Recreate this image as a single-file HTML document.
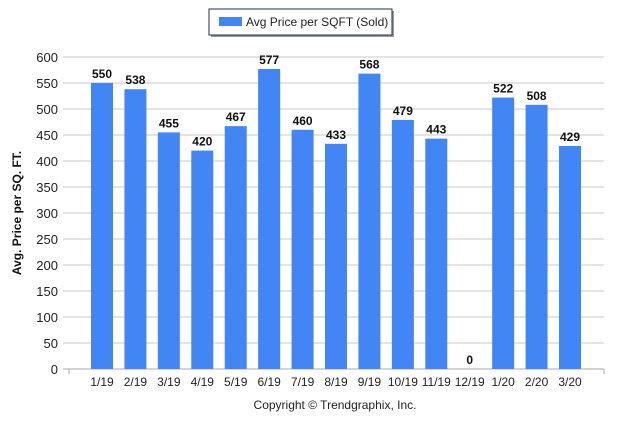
<!DOCTYPE html>
<html><head><meta charset="utf-8"><style>
body{margin:0;background:#fff;font-family:"Liberation Sans",Arial,sans-serif}
</style></head><body>
<svg width="623" height="419" xmlns="http://www.w3.org/2000/svg" style="font-family:'Liberation Sans',Arial,sans-serif">
<rect x="211" y="11" width="183" height="26" fill="#999"/>
<rect x="209" y="9" width="183" height="26" fill="#fff" stroke="#1f2f4f" stroke-width="1"/>
<rect x="219" y="17" width="23" height="9" fill="#4285f4"/>
<text x="246" y="26" font-size="12" fill="#222">Avg Price per SQFT (Sold)</text>
<g id="grid"></g><g id="bars"></g><g id="xl"></g>
<text transform="translate(21,213) rotate(-90)" text-anchor="middle" font-size="12" font-weight="bold" fill="#111">Avg. Price per SQ. FT.</text>
<text x="335" y="409" text-anchor="middle" font-size="12" fill="#222">Copyright © Trendgraphix, Inc.</text>
</svg>
<script>
const categories=["1/19","2/19","3/19","4/19","5/19","6/19","7/19","8/19","9/19","10/19","11/19","12/19","1/20","2/20","3/20"];
const values=[550,538,455,420,467,577,460,433,568,479,443,0,522,508,429];
const yTicks=[0,50,100,150,200,250,300,350,400,450,500,550,600];
const NS="http://www.w3.org/2000/svg";
const y=v=>369-v*(312/600);
const x=i=>102+i*33.43;
function mk(t,a,p){const e=document.createElementNS(NS,t);for(const k in a)e.setAttribute(k,a[k]);p.appendChild(e);return e;}
const g=document.getElementById('grid'),b=document.getElementById('bars'),xl=document.getElementById('xl');
yTicks.forEach(v=>{
 const l=mk('line',{x1:63,x2:604,y1:y(v),y2:y(v),stroke:v===0?'#aaa':'#c8c8c8'},g);
 
 
 const t=mk('text',{x:58,y:y(v)+5,'text-anchor':'end','font-size':13,fill:'#222'},g);
 t.textContent=v;
 
 
});
[69,604].forEach(px=>{const tk=mk('line',{x1:px,x2:px,y1:369,y2:374,stroke:'#aaa'},g);
 
 });
categories.forEach((c,i)=>{
 const v=values[i];
 const r=mk('rect',{x:x(i)-11,y:y(v),width:22,height:369-y(v),fill:'#4285f4'},b);
 
 
 const t=mk('text',{x:x(i),y:y(v)-5,'text-anchor':'middle','font-size':12,'font-weight':'bold',fill:'#111'},b);
 t.textContent=v;
 
 
 const lx=mk('text',{x:x(i),y:386,'text-anchor':'middle','font-size':12,fill:'#222'},xl);
 lx.textContent=c;
 
 
});
</script>
</body></html>
